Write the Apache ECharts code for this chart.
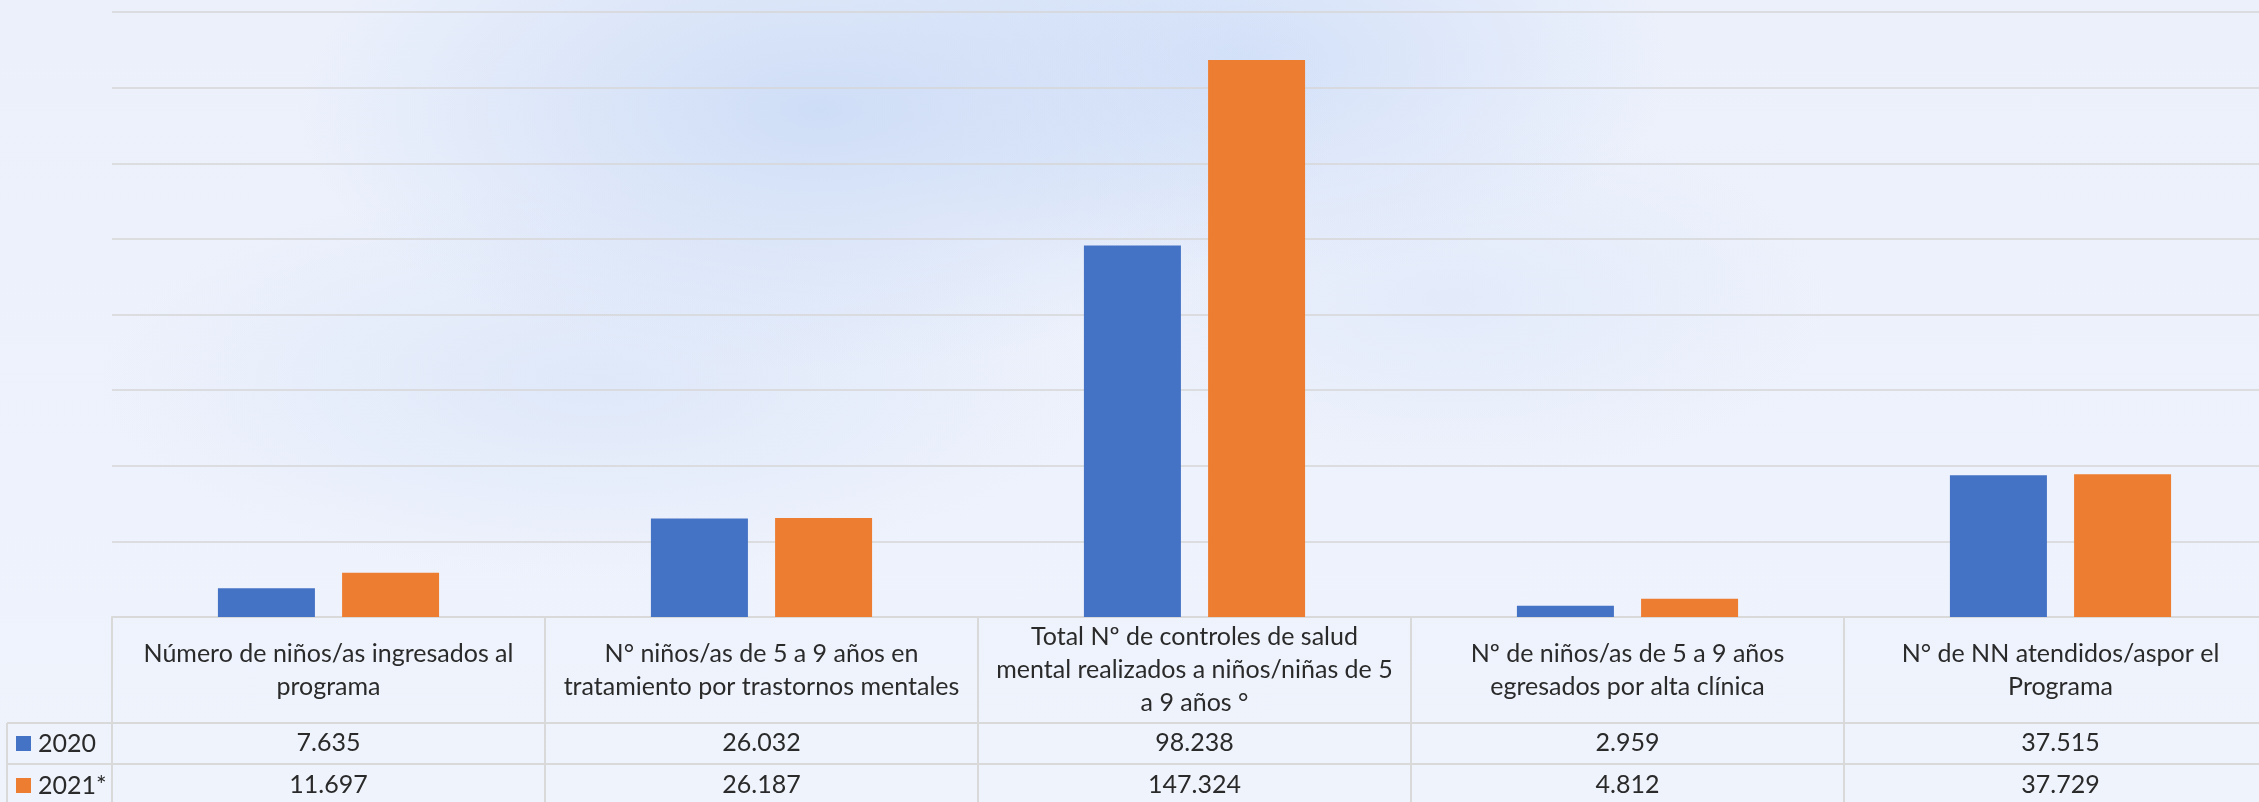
<!DOCTYPE html>
<html>
<head>
<meta charset="utf-8">
<script src="https://cdn.jsdelivr.net/npm/echarts@6/dist/echarts.min.js"></script>
<style>
  html, body { margin: 0; padding: 0; }
  body {
    width: 2259px; height: 802px; overflow: hidden;
    background:
      radial-gradient(ellipse 520px 260px at 820px 110px, rgba(203,219,246,0.9), rgba(203,219,246,0) 100%),
      radial-gradient(ellipse 420px 220px at 1250px 60px, rgba(207,222,248,0.85), rgba(207,222,248,0) 100%),
      radial-gradient(ellipse 500px 200px at 600px 380px, rgba(216,228,248,0.7), rgba(216,228,248,0) 100%),
      radial-gradient(ellipse 380px 180px at 1450px 300px, rgba(220,230,249,0.6), rgba(220,230,249,0) 100%),
      linear-gradient(180deg, #ebf0fb 0%, #eef2fc 60%, #eff3fc 100%);
  }
  #main { width: 2259px; height: 802px; }
</style>
</head>
<body>
<div id="main"></div>
<script>
let categorias = [
  "Número de niños/as ingresados al\nprograma",
  "N° niños/as de 5 a 9 años en\ntratamiento por trastornos mentales",
  "Total Nº de controles de salud\nmental realizados a niños/niñas de 5\na 9 años °",
  "Nº de niños/as de 5 a 9 años\negresados por alta clínica",
  "N° de NN atendidos/aspor el\nPrograma",
];
let valores2020 = [7635, 26032, 98238, 2959, 37515];
let valores2021 = [11697, 26187, 147324, 4812, 37729];
let nombresSeries = ["2020", "2021*"];

let lineaTabla = "#d9d9d9";
let colorTexto = "#2a2a2a";
let fuente = "Lato, 'Open Sans', sans-serif";
let tamTexto = 25;

function formatoMiles(n) {
  return String(n).replace(/\B(?=(\d{3})+(?!\d))/g, ".");
}

let myChart = echarts.init(document.getElementById("main"));

let option = {
  backgroundColor: "transparent",
  animation: false,
  textStyle: { fontFamily: fuente },
  grid: { left: 112, width: 2165, top: 12, height: 605, outerBoundsMode: "none", containLabel: false },
  legend: {
    orient: "vertical",
    left: 16,
    top: 731,
    padding: 0,
    itemGap: 17,
    itemWidth: 15,
    itemHeight: 15,
    icon: "rect",
    textStyle: { fontSize: tamTexto, color: colorTexto, fontFamily: fuente, lineHeight: 24, padding: [0, 0, 0, 2] },
    data: nombresSeries,
  },
  xAxis: [
    {
      type: "category",
      data: categorias,
      axisLine: { show: true, lineStyle: { color: lineaTabla, width: 2 } },
      axisTick: { show: true, interval: 0, length: 190, lineStyle: { color: lineaTabla, width: 2 } },
      axisLabel: {
        interval: 0,
        margin: 53,
        verticalAlign: "middle",
        fontSize: tamTexto,
        lineHeight: 33,
        color: colorTexto,
        fontFamily: fuente,
      },
    },
    {
      type: "category",
      data: categorias,
      position: "bottom",
      offset: 106,
      axisLine: { show: true, lineStyle: { color: lineaTabla, width: 2 } },
      axisTick: { show: false },
      axisLabel: {
        interval: 0,
        margin: 20,
        verticalAlign: "middle",
        fontSize: tamTexto,
        color: colorTexto,
        fontFamily: fuente,
        formatter: (v, i) => formatoMiles(valores2020[i]),
      },
    },
    {
      type: "category",
      data: categorias,
      position: "bottom",
      offset: 147,
      axisLine: { show: true, lineStyle: { color: lineaTabla, width: 2 } },
      axisTick: { show: false },
      axisLabel: {
        interval: 0,
        margin: 21,
        verticalAlign: "middle",
        fontSize: tamTexto,
        color: colorTexto,
        fontFamily: fuente,
        formatter: (v, i) => formatoMiles(valores2021[i]),
      },
    },
  ],
  yAxis: {
    type: "value",
    min: 0,
    max: 160000,
    interval: 20000,
    axisLabel: { show: false },
    axisLine: { show: false },
    axisTick: { show: false },
    splitLine: { show: true, lineStyle: { color: "#d6d6d6", width: 1.5 } },
  },
  series: [
    {
      type: "bar",
      name: nombresSeries[0],
      data: valores2020,
      barWidth: 97,
      barGap: "28%",
      itemStyle: { color: "#4472c4" },
    },
    {
      type: "bar",
      name: nombresSeries[1],
      data: valores2021,
      barWidth: 97,
      barGap: "28%",
      itemStyle: { color: "#ed7d31" },
    },
  ],
  graphic: [
    { type: "line", shape: { x1: 7, y1: 723, x2: 112, y2: 723 }, style: { stroke: lineaTabla, lineWidth: 2 } },
    { type: "line", shape: { x1: 7, y1: 764, x2: 112, y2: 764 }, style: { stroke: lineaTabla, lineWidth: 2 } },
    { type: "line", shape: { x1: 7, y1: 723, x2: 7, y2: 802 }, style: { stroke: lineaTabla, lineWidth: 2 } },
  ],
};

myChart.setOption(option);
</script>
</body>
</html>
